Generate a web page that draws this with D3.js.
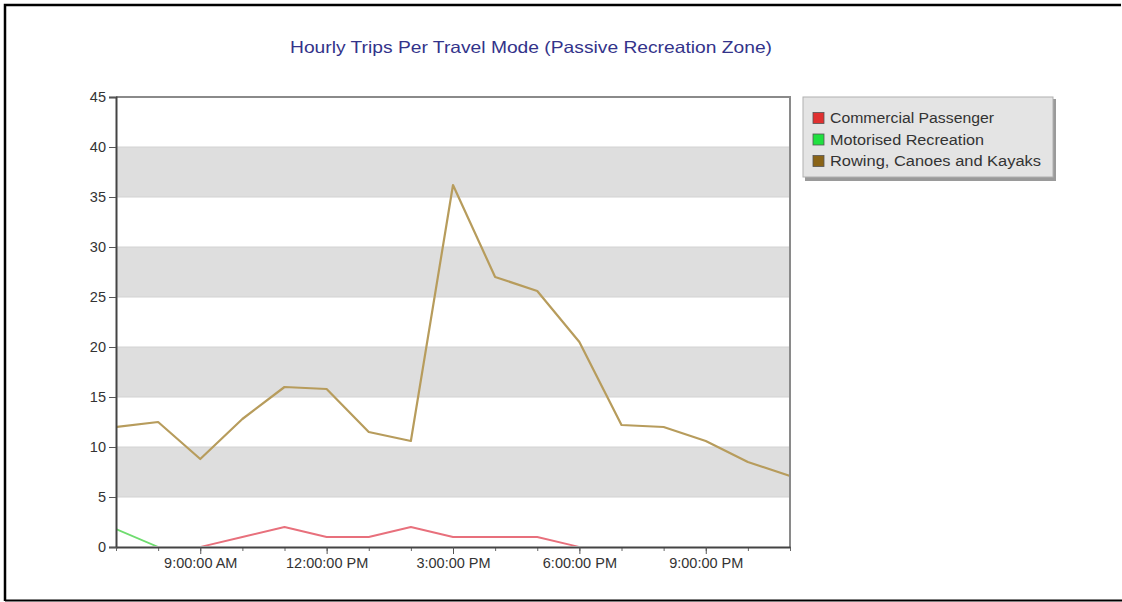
<!DOCTYPE html>
<html>
<head>
<meta charset="utf-8">
<script src="https://cdn.jsdelivr.net/npm/d3@7/dist/d3.min.js"></script>
<style>
  html, body { margin: 0; padding: 0; background: #fff; }
  svg { display: block; }
  text { font-family: "Liberation Sans", Arial, sans-serif; }
</style>
</head>
<body>
<svg id="chart" width="1122" height="602"></svg>
<script>
// Hourly readings, 7:00 AM through 11:00 PM
const hours = [7, 8, 9, 10, 11, 12, 13, 14, 15, 16, 17, 18, 19, 20, 21, 22, 23];
const commercialPassenger = [0, 0, 0, 1, 2, 1, 1, 2, 1, 1, 1, 0, 0, 0, 0, 0, 0];
const motorisedRecreation = [1.8, 0, 0, 0, 0, 0, 0, 0, 0, 0, 0, 0, 0, 0, 0, 0, 0];
const rowingCanoesKayaks = [12, 12.5, 8.8, 12.8, 16, 15.8, 11.5, 10.6, 36.2, 27, 25.6, 20.5, 12.2, 12, 10.6, 8.5, 7.1];

const seriesNames = ["Commercial Passenger", "Motorised Recreation", "Rowing, Canoes and Kayaks"];
const lineColors = ["#e8707c", "#6fdc6f", "#b79c5c"];
const swatchColors = ["#e03030", "#20e040", "#8a6418"];
const yTicks = [0, 5, 10, 15, 20, 25, 30, 35, 40, 45];
const xMajorHours = [9, 12, 15, 18, 21];
const titleText = "Hourly Trips Per Travel Mode (Passive Recreation Zone)";

const svg = d3.select("#chart");
const day = h => new Date(2000, 0, 1, h, 0, 0);

const plot = { left: 116, right: 790, top: 97, bottom: 547 };

const x = d3.scaleTime()
  .domain([day(7), day(23)])
  .range([plot.left, plot.right]);
const y = d3.scaleLinear()
  .domain([0, 45])
  .range([plot.bottom, plot.top]);

// Outer frame
svg.append("path")
  .attr("d", `M5,601 L5,5 L1121,5`)
  .attr("fill", "none").attr("stroke", "#000").attr("stroke-width", 2.5);
svg.append("line")
  .attr("x1", 5).attr("x2", 1122).attr("y1", 600.5).attr("y2", 600.5)
  .attr("stroke", "#000").attr("stroke-width", 2);

// Title
svg.append("text")
  .attr("x", 531).attr("y", 53)
  .attr("text-anchor", "middle")
  .attr("font-size", 16.5)
  .attr("fill", "#33338a")
  .attr("textLength", 482).attr("lengthAdjust", "spacingAndGlyphs")
  .text(titleText);

// Alternating horizontal bands
const bandPairs = d3.pairs(yTicks).filter((_, i) => i % 2 === 1);
svg.append("g").selectAll("rect")
  .data(bandPairs)
  .join("rect")
  .attr("x", plot.left).attr("width", plot.right - plot.left)
  .attr("y", d => y(d[1])).attr("height", d => y(d[0]) - y(d[1]))
  .attr("fill", "#dedede");

// Grid lines
svg.append("g").selectAll("line")
  .data(yTicks.slice(1, -1))
  .join("line")
  .attr("x1", plot.left).attr("x2", plot.right)
  .attr("y1", d => y(d)).attr("y2", d => y(d))
  .attr("stroke", "#d2d2d2").attr("stroke-width", 1);

// Plot frame (top and right)
svg.append("path")
  .attr("d", `M${plot.left},${plot.top} L${plot.right},${plot.top} L${plot.right},${plot.bottom}`)
  .attr("fill", "none").attr("stroke", "#8a8a8a").attr("stroke-width", 2);

// Series lines, clipped to the inside of the plot so zero runs sit under the axis
svg.append("clipPath").attr("id", "plot-clip")
  .append("rect")
  .attr("x", plot.left + 1).attr("y", plot.top)
  .attr("width", plot.right - plot.left - 2)
  .attr("height", plot.bottom - plot.top - 1);

const series = [commercialPassenger, motorisedRecreation, rowingCanoesKayaks];
const line = d3.line()
  .x((d, i) => x(day(hours[i])))
  .y(d => y(d));
svg.append("g")
  .attr("clip-path", "url(#plot-clip)")
  .selectAll("path")
  .data(series)
  .join("path")
  .attr("d", line)
  .attr("fill", "none")
  .attr("stroke", (d, i) => lineColors[i])
  .attr("stroke-width", (d, i) => i === 2 ? 2.2 : 1.8)
  .attr("stroke-linejoin", "round");

// Y axis
const yAxis = svg.append("g")
  .attr("transform", `translate(${plot.left},0)`)
  .call(d3.axisLeft(y).tickValues(yTicks).tickSize(7).tickPadding(3));
yAxis.select(".domain").attr("stroke", "#444").attr("stroke-width", 2);
yAxis.selectAll(".tick line").attr("stroke", "#555");
yAxis.selectAll(".tick text")
  .attr("font-size", 14.5).attr("fill", "#333")
  .attr("font-family", "Liberation Sans, Arial, sans-serif");

// X axis: minor hourly ticks, then labelled major ticks
const xMinor = svg.append("g")
  .attr("transform", `translate(0,${plot.bottom})`)
  .call(d3.axisBottom(x).tickValues(hours.map(day)).tickSize(4).tickFormat(""));
xMinor.select(".domain").remove();
xMinor.selectAll(".tick line").attr("stroke", "#666");

const xAxis = svg.append("g")
  .attr("transform", `translate(0,${plot.bottom})`)
  .call(d3.axisBottom(x)
    .tickValues(xMajorHours.map(day))
    .tickSize(7).tickSizeOuter(0).tickPadding(4)
    .tickFormat(d3.timeFormat("%-I:%M:%S %p")));
xAxis.select(".domain").attr("stroke", "#444").attr("stroke-width", 2);
xAxis.selectAll(".tick line").attr("stroke", "#555");
xAxis.selectAll(".tick text")
  .attr("font-size", 14.5).attr("fill", "#333")
  .attr("font-family", "Liberation Sans, Arial, sans-serif");

// Legend
const legend = svg.append("g").attr("transform", "translate(803,97)");
legend.append("rect")
  .attr("x", 2).attr("y", 2).attr("width", 251).attr("height", 82)
  .attr("fill", "#9a9a9a");
legend.append("rect")
  .attr("x", 0).attr("y", 0).attr("width", 250).attr("height", 80)
  .attr("fill", "#e4e4e4").attr("stroke", "#b0b0b0").attr("stroke-width", 1);
const legendWidths = [164, 154, 211];
const items = legend.selectAll("g.item")
  .data(seriesNames)
  .join("g")
  .attr("class", "item")
  .attr("transform", (d, i) => `translate(0,${21 + i * 21.5})`);
items.append("rect")
  .attr("x", 10).attr("y", -5.5).attr("width", 11).attr("height", 11)
  .attr("fill", (d, i) => swatchColors[i])
  .attr("stroke", "#555").attr("stroke-width", 0.8);
items.append("text")
  .attr("x", 27).attr("y", 5)
  .attr("font-size", 14)
  .attr("fill", "#333")
  .attr("textLength", (d, i) => legendWidths[i]).attr("lengthAdjust", "spacingAndGlyphs")
  .text(d => d);
</script>
</body>
</html>
